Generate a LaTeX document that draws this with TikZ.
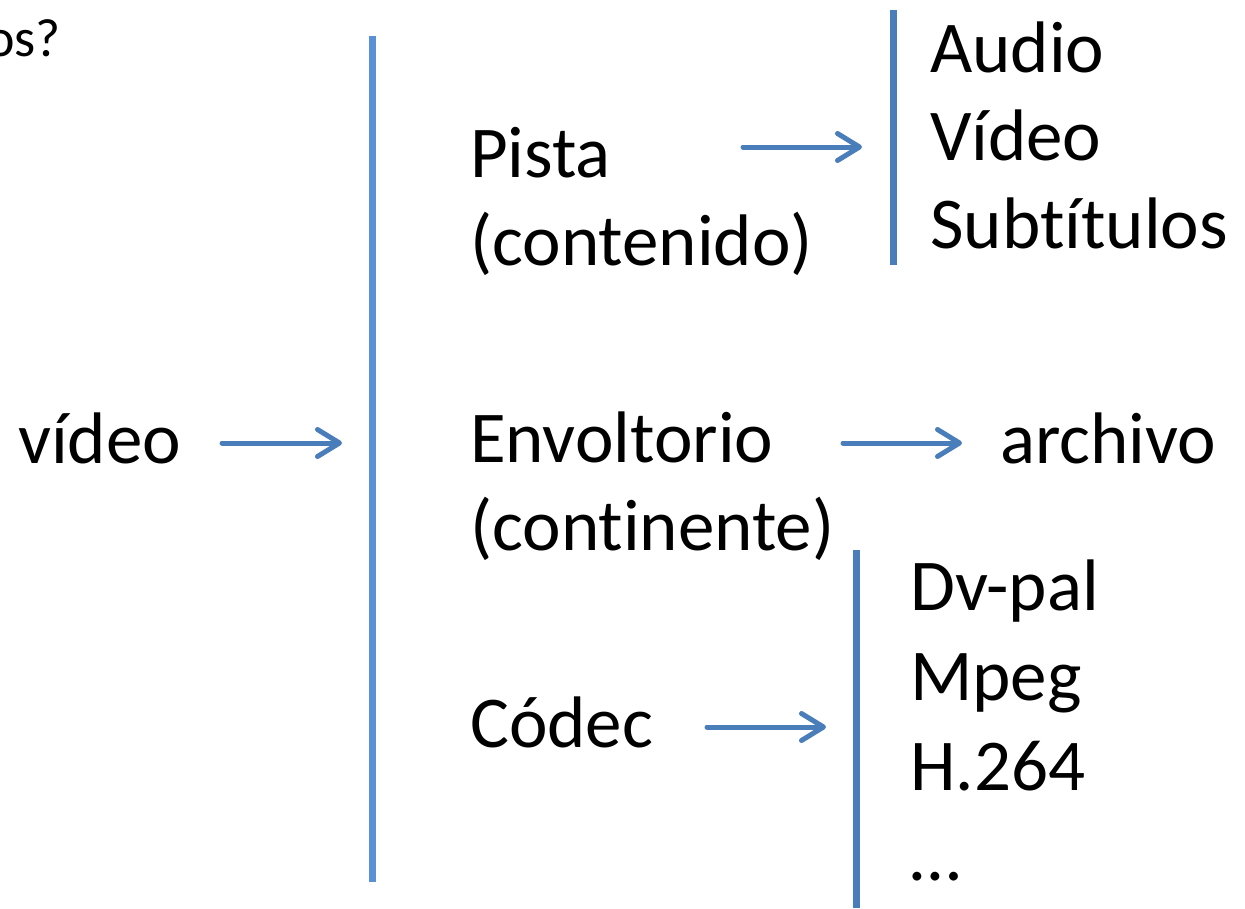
\documentclass[tikz,border=0pt]{standalone}
\usepackage{fontspec}
\setmainfont{Carlito}[Ligatures=NoCommon]
\usepackage{tikz}
\usetikzlibrary{arrows.meta}
\definecolor{barblue}{HTML}{5A91D6}
\definecolor{arrblue}{HTML}{4A7EBB}

\begin{document}
\begin{tikzpicture}[
    x=1pt,y=-1pt,
    txt/.style={inner sep=0pt,anchor=base west,font=\fontsize{73}{88}\selectfont},
    small/.style={inner sep=0pt,anchor=base east,font=\fontsize{54}{64}\selectfont},
    bar/.style={draw=arrblue,line width=7pt},
    mainbar/.style={draw=barblue,line width=7pt},
    arr/.style={draw=arrblue,line width=5pt,line cap=round,line join=round,
      -{Straight Barb[length=22pt,width=27pt,line cap=round,line join=round]}}
  ]
    \clip (0,0) rectangle (1245,908);

    % tail of the heading line
    \node[small] (head) at (61,56) {os?};

    % left side
    \node[txt] (video) at (18,463) {vídeo};
    \coordinate (bigtop) at (372,36);
    \coordinate (bigbot) at (372,882);
    \draw[mainbar] (bigtop) -- (bigbot);

    % middle column
    \node[txt] (pista) at (470,177) {Pista};
    \node[txt] (contenido) at (470,265) {(contenido)};
    \node[txt] (envoltorio) at (470,462) {Envoltorio};
    \node[txt] (continente) at (470,550) {(continente)};
    \node[txt] (codec) at (470,747) {Códec};

    % track types
    \coordinate (tracktop) at (893,10);
    \coordinate (trackbot) at (893,265);
    \draw[bar] (tracktop) -- (trackbot);
    \node[txt] (audio) at (930,72) {Audio};
    \node[txt] (vid) at (930,160) {Vídeo};
    \node[txt] (subs) at (930,248) {Subtítulos};

    \node[txt] (archivo) at (1000,463) {archivo};

    % codec list
    \coordinate (codectop) at (856,550);
    \coordinate (codecbot) at (856,908);
    \draw[bar] (codectop) -- (codecbot);
    \node[txt] (dvpal) at (910,610) {Dv-pal};
    \node[txt] (mpeg) at (910,700) {Mpeg};
    \node[txt] (h264) at (910,790) {H.264};
    \node[txt] (more) at (910,880) {…};

    % arrows
    \coordinate (video-out) at (222,443);
    \coordinate (video-in) at (342,443);
    \coordinate (pista-out) at (743,147);
    \coordinate (pista-in) at (862,147);
    \coordinate (env-out) at (843,443);
    \coordinate (env-in) at (962,443);
    \coordinate (codec-out) at (707,727);
    \coordinate (codec-in) at (826,727);
    \draw[arr] (video-out) -- (video-in);
    \draw[arr] (pista-out) -- (pista-in);
    \draw[arr] (env-out) -- (env-in);
    \draw[arr] (codec-out) -- (codec-in);
\end{tikzpicture}
\end{document}
